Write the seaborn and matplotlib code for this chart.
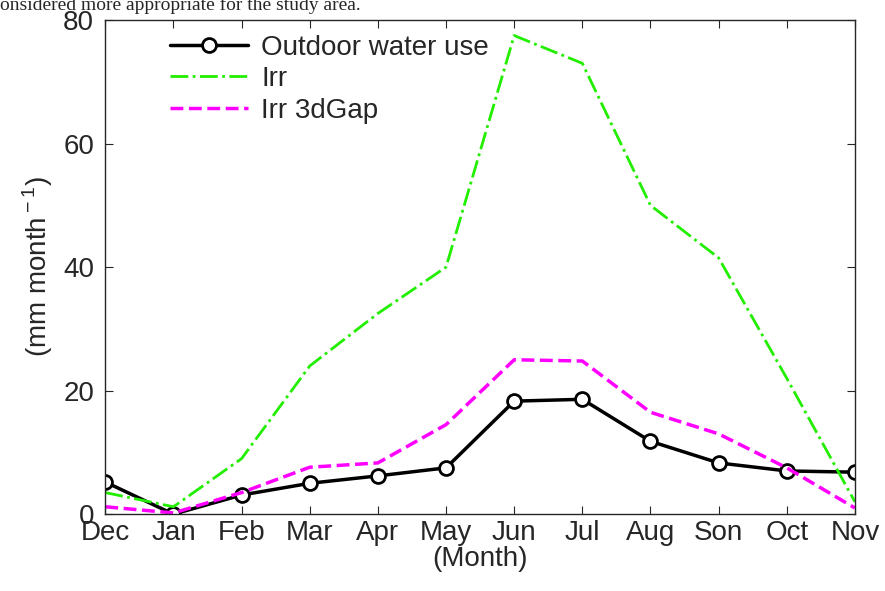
import matplotlib
matplotlib.use("Agg")
import matplotlib.pyplot as plt
import pandas as pd
import seaborn as sns

months = ["Dec", "Jan", "Feb", "Mar", "Apr", "May", "Jun", "Jul", "Aug", "Son", "Oct", "Nov"]
outdoor = [5.2, 0.0, 3.1, 5.0, 6.2, 7.5, 18.3, 18.6, 11.8, 8.3, 7.0, 6.8]
irr = [3.5, 1.2, 9.0, 24.0, 32.5, 40.0, 77.5, 73.0, 50.0, 41.5, 22.0, 2.0]
irr_gap = [1.2, 0.2, 3.5, 7.6, 8.3, 14.5, 25.0, 24.8, 16.5, 13.0, 7.5, 1.0]

sns.set_style("ticks")
plt.rcParams["font.family"] = ["Liberation Sans", "DejaVu Sans"]
plt.rcParams["mathtext.fontset"] = "custom"
plt.rcParams["mathtext.rm"] = "Liberation Sans"

df = pd.DataFrame({"x": range(len(months)), "outdoor": outdoor, "irr": irr, "gap": irr_gap})

fig = plt.figure(figsize=(8.85, 5.91), dpi=100)
ax = fig.add_axes([0.119, 0.130, 0.847, 0.836])

sns.lineplot(data=df, x="x", y="outdoor", ax=ax, color="black", lw=2.5,
             marker="o", markersize=10, markerfacecolor="white", markeredgecolor="black",
             markeredgewidth=2, label="Outdoor water use")
sns.lineplot(data=df, x="x", y="irr", ax=ax, color="#22ee00", lw=2, linestyle="-.", label="Irr")
sns.lineplot(data=df, x="x", y="gap", ax=ax, color="#ff00ff", lw=2.5, linestyle="--", label="Irr 3dGap")

ax.set_xlim(0, len(months) - 1)
ax.set_ylim(0, 80)
ax.set_xticks(range(len(months)))
ax.set_xticklabels(months)
ax.set_yticks([0, 20, 40, 60, 80])
ax.tick_params(direction="in", labelsize=20, top=True, right=True, length=6, pad=4)
ax.tick_params(axis="y", pad=8)
for s in ax.spines.values():
    s.set_linewidth(1)
ax.set_xlabel("(Month)", fontsize=20, labelpad=0)
ax.set_ylabel("(mm month$^{\\rm -1}$)", fontsize=20, labelpad=6)
ax.legend(loc="upper left", bbox_to_anchor=(0.06, 1.01), fontsize=20, frameon=False,
          handlelength=2.8, borderaxespad=0.3, labelspacing=0.2, handletextpad=0.5)

fig.text(0.0, 0.992, "onsidered more appropriate for the study area.", fontsize=14,
         family=["Liberation Serif", "DejaVu Serif"], va="center")

fig.savefig("out.png", dpi=100)
